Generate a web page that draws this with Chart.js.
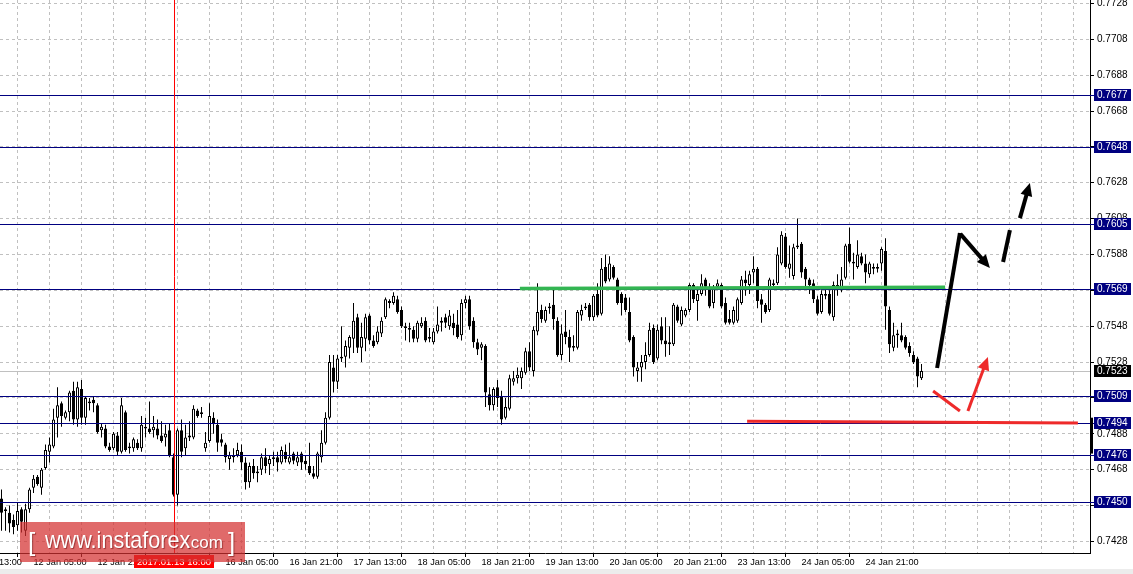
<!DOCTYPE html>
<html><head><meta charset="utf-8">
<script src="https://cdn.jsdelivr.net/npm/chart.js@4.4.1/dist/chart.umd.min.js"></script>
<style>html,body{margin:0;padding:0;background:#fff;overflow:hidden}#wrap{width:1133px;height:574px}</style>
</head><body><div id="wrap"><canvas id="c" width="1133" height="574"></canvas></div>
<script>
const openP = [
.7452,.7446,.7444,.7440,.7437,.7446,.7434,.7446,.7458,.7464,
.7458,.7469,.7478,.7481,.7497,.7505,.7497,.7500,.7512,.7496,
.7513,.7497,.7505,.7507,.7504,.7490,.7491,.7481,.7480,.7487,
.7478,.7500,.7480,.7480,.7483,.7480,.7491,.7491,.7490,.7491,
.7487,.7486,.7490,.7475,.7454,.7490,.7480,.7487,.7486,.7501,
.7499,.7480,.7484,.7497,.7493,.7485,.7482,.7474,.7475,.7476,
.7478,.7472,.7461,.7470,.7466,.7468,.7475,.7471,.7474,.7475,
.7472,.7478,.7472,.7477,.7472,.7477,.7473,.7470,.7466,.7464,
.7475,.7483,.7497,.7525,.7517,.7530,.7531,.7536,.7541,.7553,
.7536,.7541,.7554,.7540,.7539,.7544,.7553,.7561,.7561,.7563,
.7557,.7548,.7546,.7546,.7541,.7548,.7551,.7542,.7539,.7545,
.7550,.7553,.7548,.7550,.7549,.7543,.7561,.7563,.7551,.7539,
.7536,.7537,.7510,.7504,.7514,.7509,.7497,.7502,.7517,.7519,
.7519,.7522,.7534,.7523,.7545,.7557,.7551,.7558,.7560,.7551,
.7532,.7545,.7542,.7536,.7536,.7554,.7558,.7560,.7553,.7566,
.7555,.7581,.7574,.7581,.7574,.7566,.7564,.7556,.7542,.7523,
.7525,.7528,.7532,.7547,.7530,.7548,.7540,.7539,.7538,.7559,
.7549,.7554,.7557,.7571,.7562,.7566,.7574,.7570,.7561,.7570,
.7571,.7561,.7552,.7550,.7551,.7561,.7574,.7571,.7578,.7580,
.7563,.7560,.7557,.7572,.7572,.7583,.7598,.7580,.7576,.7592,
.7594,.7580,.7574,.7572,.7563,.7556,.7566,.7566,.7553,.7571,
.7568,.7575,.7594,.7584,.7581,.7587,.7583,.7577,.7581,.7580,
.7583,.7590,.7557,.7536,.7543,.7543,.7542,.7537,.7532,.7530,.7519];
const highP = [
.7457,.7447,.7448,.7443,.7450,.7447,.7449,.7458,.7465,.7465,
.7469,.7482,.7486,.7502,.7514,.7506,.7501,.7512,.7517,.7517,
.7518,.7509,.7508,.7509,.7505,.7494,.7493,.7483,.7489,.7489,
.7508,.7501,.7483,.7486,.7485,.7498,.7497,.7506,.7498,.7496,
.7495,.7493,.7494,.7477,.7491,.7496,.7493,.7495,.7504,.7502,
.7503,.7489,.7505,.7500,.7496,.7488,.7483,.7478,.7480,.7483,
.7482,.7475,.7472,.7474,.7470,.7477,.7480,.7476,.7478,.7478,
.7481,.7482,.7483,.7478,.7478,.7478,.7476,.7483,.7470,.7478,
.7490,.7500,.7532,.7532,.7532,.7548,.7540,.7543,.7561,.7555,
.7550,.7555,.7555,.7543,.7548,.7553,.7564,.7563,.7567,.7565,
.7559,.7550,.7550,.7548,.7551,.7553,.7553,.7547,.7547,.7559,
.7553,.7555,.7557,.7555,.7557,.7563,.7565,.7565,.7553,.7541,
.7539,.7538,.7514,.7514,.7518,.7512,.7508,.7521,.7523,.7525,
.7525,.7536,.7539,.7548,.7572,.7560,.7559,.7561,.7569,.7553,
.7549,.7557,.7546,.7543,.7557,.7560,.7561,.7561,.7566,.7572,
.7586,.7588,.7587,.7582,.7575,.7567,.7566,.7564,.7543,.7528,
.7532,.7539,.7550,.7549,.7549,.7553,.7553,.7548,.7561,.7560,
.7559,.7558,.7572,.7572,.7570,.7577,.7575,.7572,.7571,.7574,
.7572,.7564,.7557,.7559,.7564,.7576,.7579,.7579,.7587,.7581,
.7566,.7561,.7575,.7574,.7592,.7601,.7600,.7593,.7594,.7608,
.7595,.7581,.7575,.7574,.7565,.7568,.7569,.7568,.7573,.7577,
.7581,.7594,.7603,.7589,.7596,.7589,.7588,.7584,.7583,.7583,
.7592,.7597,.7559,.7550,.7546,.7550,.7543,.7539,.7534,.7531,.7527];
const lowP = [
.7434,.7434,.7433,.7432,.7434,.7433,.7431,.7444,.7455,.7459,
.7454,.7468,.7472,.7480,.7486,.7492,.7496,.7495,.7493,.7492,
.7493,.7493,.7501,.7500,.7488,.7486,.7480,.7478,.7479,.7476,
.7477,.7478,.7477,.7478,.7479,.7478,.7486,.7488,.7486,.7485,
.7483,.7481,.7475,.7453,.7448,.7475,.7476,.7484,.7485,.7497,
.7497,.7478,.7483,.7488,.7478,.7481,.7472,.7468,.7472,.7475,
.7468,.7457,.7458,.7463,.7461,.7465,.7466,.7465,.7470,.7467,
.7471,.7472,.7471,.7471,.7470,.7468,.7468,.7465,.7463,.7463,
.7472,.7482,.7496,.7511,.7513,.7528,.7525,.7530,.7533,.7533,
.7528,.7534,.7538,.7536,.7538,.7542,.7552,.7558,.7560,.7555,
.7547,.7540,.7539,.7539,.7539,.7547,.7539,.7539,.7538,.7544,
.7545,.7547,.7546,.7543,.7541,.7540,.7558,.7546,.7536,.7532,
.7529,.7503,.7501,.7501,.7503,.7493,.7496,.7501,.7515,.7516,
.7513,.7521,.7523,.7520,.7543,.7550,.7550,.7555,.7546,.7531,
.7529,.7538,.7528,.7534,.7535,.7551,.7557,.7551,.7551,.7553,
.7554,.7572,.7573,.7574,.7560,.7554,.7556,.7539,.7520,.7517,
.7517,.7524,.7531,.7527,.7529,.7538,.7531,.7532,.7537,.7550,
.7548,.7553,.7556,.7561,.7551,.7565,.7565,.7558,.7558,.7568,
.7558,.7549,.7549,.7549,.7550,.7560,.7565,.7566,.7572,.7558,
.7550,.7555,.7556,.7569,.7571,.7582,.7580,.7575,.7574,.7591,
.7575,.7569,.7566,.7561,.7554,.7555,.7563,.7554,.7551,.7565,
.7567,.7574,.7583,.7574,.7580,.7582,.7572,.7575,.7577,.7578,
.7579,.7546,.7533,.7534,.7536,.7539,.7535,.7531,.7527,.7514,.7518];
const closeP = [
.7444,.7445,.7438,.7436,.7445,.7439,.7446,.7457,.7463,.7460,
.7468,.7479,.7482,.7496,.7504,.7498,.7500,.7511,.7496,.7514,
.7497,.7508,.7506,.7505,.7489,.7492,.7481,.7479,.7488,.7478,
.7504,.7479,.7481,.7485,.7480,.7493,.7492,.7489,.7492,.7487,
.7484,.7488,.7476,.7454,.7490,.7478,.7486,.7486,.7502,.7498,
.7500,.7483,.7498,.7494,.7483,.7483,.7475,.7476,.7476,.7479,
.7472,.7461,.7470,.7466,.7467,.7475,.7470,.7474,.7475,.7472,
.7479,.7474,.7475,.7473,.7475,.7472,.7471,.7466,.7464,.7477,
.7483,.7497,.7528,.7517,.7530,.7531,.7537,.7542,.7551,.7536,
.7542,.7553,.7540,.7537,.7545,.7551,.7563,.7562,.7565,.7556,
.7548,.7547,.7547,.7541,.7550,.7550,.7540,.7541,.7545,.7549,
.7551,.7550,.7554,.7547,.7542,.7561,.7563,.7548,.7539,.7535,
.7538,.7511,.7504,.7513,.7508,.7496,.7503,.7519,.7519,.7521,
.7523,.7534,.7525,.7546,.7556,.7552,.7557,.7559,.7552,.7532,
.7544,.7542,.7536,.7537,.7556,.7557,.7559,.7553,.7565,.7554,
.7580,.7573,.7583,.7575,.7561,.7561,.7557,.7540,.7525,.7525,
.7528,.7532,.7546,.7528,.7546,.7540,.7538,.7538,.7560,.7551,
.7557,.7557,.7571,.7563,.7566,.7572,.7570,.7559,.7569,.7572,
.7559,.7550,.7550,.7557,.7563,.7574,.7572,.7577,.7580,.7562,
.7560,.7556,.7574,.7571,.7588,.7599,.7581,.7583,.7592,.7593,
.7578,.7574,.7571,.7563,.7555,.7566,.7565,.7555,.7571,.7570,
.7574,.7593,.7584,.7583,.7588,.7583,.7578,.7583,.7580,.7581,
.7591,.7559,.7538,.7543,.7544,.7540,.7536,.7533,.7528,.7520,.7523];

const timeTickIndex = [-8,8,24,40,56,72,88,104,120,136,152,168,184,200,216];
const timeTickLabels = ['11 Jan 13:00','12 Jan 05:00','12 Jan 21:00','13 Jan 13:00','16 Jan 05:00','16 Jan 21:00','17 Jan 13:00','18 Jan 05:00','18 Jan 21:00','19 Jan 13:00','20 Jan 05:00','20 Jan 21:00','23 Jan 13:00','24 Jan 05:00','24 Jan 21:00'];
const gridIndex = [0,8,16,24,32,40,48,56,64,72,80,88,96,104,112,120,128,136,144,152,160,168,176,184,192,200,208,216,224,232,240,248,256,264];
const priceTicks = [0.7728,0.7708,0.7688,0.7668,0.7648,0.7628,0.7608,0.7588,0.7568,0.7548,0.7528,0.7508,0.7488,0.7468,0.7448,0.7428];
const levelPrices = [0.7677,0.7648,0.7605,0.7569,0.7509,0.7494,0.7476,0.7450];
const bidPrice = 0.7523;
const markerIndex = 43;
const markerLabel = '2017.01.13 16:00';
const greenLine = [[129.6,0.75690],[235.9,0.75698]];
const redLevelLine = [[186.4,0.74950],[269.1,0.74940]];
const blackPath = [[233.9,0.75247],[239.6,0.76000]];
const blackArrow1 = [[239.7,0.75995],[247.1,0.75805]];
const blackDash = [[250.4,0.75838],[252.1,0.76016]];
const blackArrow2 = [[254.6,0.76083],[257.1,0.76279]];
const redPath = [[232.9,0.75119],[239.6,0.75007]];
const redArrow = [[241.6,0.75007],[246.6,0.75308]];
const scaleBar = [0.7497,0.7477];

const bodies = openP.map((o,i)=>({x:i,y:[o,closeP[i]]}));
const wicks = lowP.map((l,i)=>({x:i,y:[l,highP[i]]}));
const FONT = '"Liberation Sans", Arial, sans-serif';

function arrowLine(ctx,sx,sy,p,color,w,head){
  const x1=sx.getPixelForValue(p[0][0]),y1=sy.getPixelForValue(p[0][1]);
  const x2=sx.getPixelForValue(p[1][0]),y2=sy.getPixelForValue(p[1][1]);
  const ang=Math.atan2(y2-y1,x2-x1);
  ctx.save();ctx.strokeStyle=color;ctx.fillStyle=color;ctx.lineWidth=w;ctx.lineCap='butt';
  let ex=x2,ey=y2;
  if(head){ex=x2-Math.cos(ang)*10;ey=y2-Math.sin(ang)*10;}
  ctx.beginPath();ctx.moveTo(x1,y1);ctx.lineTo(ex,ey);ctx.stroke();
  if(head){
    ctx.beginPath();ctx.moveTo(x2,y2);
    ctx.lineTo(x2-Math.cos(ang)*13+Math.sin(ang)*6,y2-Math.sin(ang)*13-Math.cos(ang)*6);
    ctx.lineTo(x2-Math.cos(ang)*13-Math.sin(ang)*6,y2-Math.sin(ang)*13+Math.cos(ang)*6);
    ctx.closePath();ctx.fill();
  }
  ctx.restore();
}

const overlay = {
  id:'overlay',
  beforeDatasetsDraw(chart){
    const {ctx,chartArea:a,scales:{y}}=chart;
    const yy=Math.round(y.getPixelForValue(bidPrice))+0.5;
    ctx.save();ctx.strokeStyle='#c0c0c0';ctx.lineWidth=1;
    ctx.beginPath();ctx.moveTo(a.left,yy);ctx.lineTo(a.right,yy);ctx.stroke();ctx.restore();
  },
  afterDatasetsDraw(chart){
    const {ctx,chartArea:a,scales:{x,y}}=chart;
    ctx.save();
    ctx.strokeStyle='#000080';ctx.lineWidth=1;
    levelPrices.forEach(p=>{const yy=Math.round(y.getPixelForValue(p))+0.5;
      ctx.beginPath();ctx.moveTo(a.left,yy);ctx.lineTo(1094,yy);ctx.stroke();});
    const vx=Math.round(x.getPixelForValue(markerIndex))+0.5;
    ctx.strokeStyle='#ff0000';ctx.beginPath();ctx.moveTo(vx,a.top);ctx.lineTo(vx,a.bottom);ctx.stroke();
    ctx.restore();
    arrowLine(ctx,x,y,greenLine,'#33b552',3.5,false);
    arrowLine(ctx,x,y,redLevelLine,'#ee2a2a',3,false);
    arrowLine(ctx,x,y,blackPath,'#000',4,false);
    arrowLine(ctx,x,y,blackArrow1,'#000',4,true);
    arrowLine(ctx,x,y,blackDash,'#000',4,false);
    arrowLine(ctx,x,y,blackArrow2,'#000',4,true);
    arrowLine(ctx,x,y,redPath,'#ee2a2a',3,false);
    arrowLine(ctx,x,y,redArrow,'#ee2a2a',3,true);
  },
  afterDraw(chart){
    const {ctx,chartArea:a,scales:{x,y}}=chart;
    ctx.save();
    ctx.font='10px '+FONT;ctx.textBaseline='middle';ctx.textAlign='left';
    levelPrices.forEach(p=>{const yy=Math.round(y.getPixelForValue(p));
      ctx.fillStyle='#000080';ctx.fillRect(1094,yy-6,37,12);
      ctx.fillStyle='#fff';ctx.fillText(p.toFixed(4),1097,yy+0.5);});
    const by=Math.round(y.getPixelForValue(bidPrice));
    ctx.fillStyle='#000';ctx.fillRect(1094,by-6,37,12);
    ctx.fillStyle='#fff';ctx.fillText(bidPrice.toFixed(4),1097,by+0.5);
    const s1=y.getPixelForValue(scaleBar[0]),s2=y.getPixelForValue(scaleBar[1]);
    ctx.fillStyle='#000';ctx.fillRect(a.right,s1,3,s2-s1);
    const vx=Math.round(x.getPixelForValue(markerIndex));
    ctx.fillStyle='#ff0000';ctx.fillRect(vx-40,555,80,13);
    ctx.fillStyle='#fff';ctx.font='9.5px '+FONT;ctx.textAlign='center';
    ctx.fillText(markerLabel,vx,562);
    ctx.fillStyle='#ececec';ctx.fillRect(0,569,1133,5);
    ctx.fillStyle='rgba(212,48,48,0.72)';ctx.fillRect(20,522,225,40);
    ctx.fillStyle='#fff';ctx.textAlign='left';ctx.textBaseline='alphabetic';
    ctx.shadowColor='rgba(90,0,0,0.5)';ctx.shadowOffsetX=1;ctx.shadowOffsetY=1;ctx.shadowBlur=1;
    ctx.font='26px '+FONT;
    ctx.fillText('[',28,551);ctx.fillText(']',228,551);
    ctx.save();ctx.translate(45,548);ctx.scale(0.9,1);
    ctx.font='24px '+FONT;ctx.fillText('www.instaforex',0,0);
    ctx.restore();
    ctx.font='17px '+FONT;ctx.fillText('.com',186,548);
    ctx.restore();
  }
};

new Chart(document.getElementById('c'),{
  type:'bar',
  data:{datasets:[
    {label:'body',data:bodies,order:0,grouped:false,barThickness:3,borderWidth:1,borderColor:'#000',borderSkipped:false,inflateAmount:0,
     backgroundColor:(c)=>closeP[c.dataIndex]>=openP[c.dataIndex]?'#fff':'#000'},
    {label:'wick',data:wicks,order:1,grouped:false,barThickness:1,borderWidth:0,inflateAmount:0,backgroundColor:'#000'}
  ]},
  options:{
    responsive:false,animation:false,devicePixelRatio:1,events:[],
    layout:{padding:0},
    plugins:{legend:{display:false},tooltip:{enabled:false}},
    scales:{
      x:{type:'linear',min:-0.375,max:272.125,position:'bottom',offset:false,
        afterBuildTicks:(s)=>{s.ticks=[-8].concat(gridIndex).map(v=>({value:v}));},
        afterFit:(s)=>{s.height=21;s.paddingLeft=0;s.paddingRight=0;},
        ticks:{autoSkip:false,maxRotation:0,minRotation:0,align:'start',padding:0,color:'#000',
          font:{family:FONT,size:9.2},
          callback:(v)=>{const k=timeTickIndex.indexOf(v);return k>=0?timeTickLabels[k]:'';}},
        grid:{color:'#c0c0c0',lineWidth:1,drawTicks:true,tickLength:4,
          tickColor:(c)=>(c.tick && timeTickIndex.indexOf(c.tick.value)>=0)?'#000':'rgba(0,0,0,0)'},
        border:{display:true,color:'#000',width:1,dash:[3,3]}
      },
      y:{type:'linear',position:'right',min:0.742155,max:0.772990,
        afterBuildTicks:(s)=>{s.ticks=priceTicks.map(v=>({value:v}));},
        afterFit:(s)=>{s.width=43;s.paddingTop=0;s.paddingBottom=0;},
        ticks:{padding:3,color:'#000',font:{family:FONT,size:10},
          callback:(v)=>Number(v).toFixed(4)},
        grid:{color:'#c0c0c0',lineWidth:1,drawTicks:true,tickLength:4,tickColor:'#000'},
        border:{display:true,color:'#000',width:1,dash:[3,3]}
      }
    }
  },
  plugins:[overlay]
});
</script></body></html>
